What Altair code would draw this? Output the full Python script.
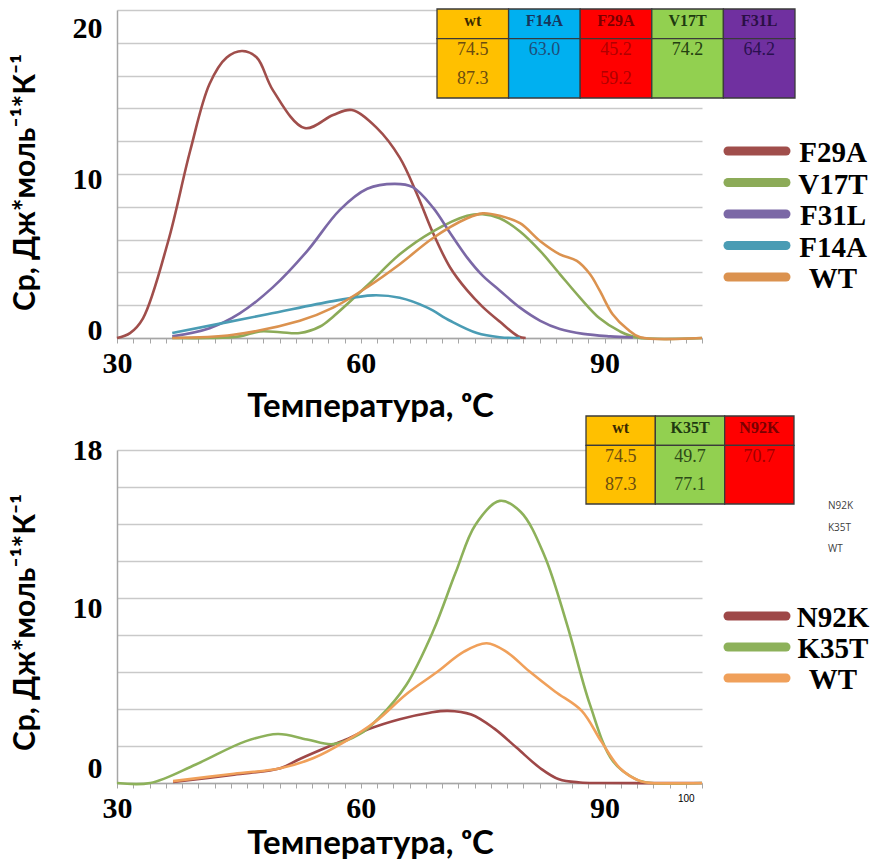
import altair as alt
import pandas as pd

# ---------------- data ----------------
TOP_ORDER = ["F29A", "V17T", "F31L", "F14A", "WT"]
TOP_COLORS = ["#A04E4B", "#8CAB58", "#7B68A6", "#4A9CB4", "#DB924F"]

F29A_T = [30.0, 31.6, 33.2, 36.3, 39.0, 41.4, 43.5, 45.4, 47.2, 49.2, 53.1, 56.6, 58.9, 62.0, 64.8, 66.9, 68.9, 71.0, 73.1, 75.0, 77.1, 79.4, 80.3]
F29A_CP = [0, 0.3, 1.2, 5.9, 11.4, 15.5, 17.1, 17.5, 17.1, 15.1, 12.8, 13.6, 13.9, 12.8, 11.0, 8.8, 6.4, 4.3, 2.9, 1.9, 1.0, 0.1, 0]

V17T_T = [36.8, 41.4, 45.1, 47.6, 50.1, 52.5, 55.0, 56.6, 60.8, 64.8, 68.9, 73.1, 75.0, 77.1, 79.6, 82.1, 84.5, 87.0, 89.4, 91.9, 94.0, 102]
V17T_CP = [0, 0, 0.1, 0.4, 0.35, 0.3, 0.7, 1.3, 3.2, 5.1, 6.5, 7.45, 7.55, 7.3, 6.5, 5.3, 3.9, 2.45, 1.2, 0.4, 0.03, 0]

F31L_T = [36.8, 41.4, 45.1, 49.2, 53.4, 57.4, 60.8, 64.2, 66.4, 68.9, 71.0, 73.1, 75.0, 77.1, 79.6, 82.1, 84.5, 87.4, 90.7, 93.5]
F31L_CP = [0.1, 0.6, 1.5, 3.1, 5.3, 7.8, 9.1, 9.4, 9.2, 7.95, 6.4, 4.9, 3.8, 2.9, 1.85, 1.05, 0.55, 0.25, 0.1, 0.03]

F14A_T = [36.8, 48.5, 56.6, 61.5, 64.8, 68.2, 71.0, 74.3, 77.1, 79.6]
F14A_CP = [0.3, 1.45, 2.25, 2.6, 2.45, 1.85, 1.05, 0.3, 0.05, 0]

WT1_T = [36.8, 44.3, 52.5, 56.6, 60.8, 64.8, 68.9, 73.1, 75.0, 77.1, 79.6, 82.1, 84.5, 86.6, 88.2, 89.4, 91.0, 92.8, 94.4, 102]
WT1_CP = [0, 0.2, 1.05, 1.85, 3.1, 4.5, 6.1, 7.3, 7.6, 7.45, 7.0, 5.9, 5.1, 4.7, 3.9, 2.9, 1.45, 0.55, 0.05, 0]

BOT_ORDER = ["N92K", "K35T", "WT"]
BOT_COLORS = ["#9E4848", "#8DB15A", "#F0A05A"]

N92K_T = [36.9, 44.4, 50.1, 52.5, 56.2, 58.7, 60.9, 64.8, 68.5, 70.7, 73.6, 76.4, 79.2, 82.1, 84.4, 87.0, 89.4, 102]
N92K_CP = [0.05, 0.45, 0.8, 1.3, 2.0, 2.45, 2.9, 3.45, 3.8, 3.9, 3.7, 2.95, 1.9, 0.8, 0.2, 0.03, 0, 0]

K35T_T = [30, 34.1, 39.7, 45.8, 49.8, 53.4, 56.6, 59.9, 62.2, 65.6, 68.9, 71.7, 74.1, 77.1, 79.7, 82.6, 85.4, 88.2, 91.0, 93.9, 95.7, 102]
K35T_CP = [0, 0, 1.0, 2.25, 2.65, 2.35, 2.1, 2.65, 3.5, 5.3, 8.2, 11.4, 13.95, 15.25, 14.65, 12.3, 8.55, 4.25, 1.2, 0.2, 0, 0]

WT2_T = [36.9, 44.4, 50.1, 54.2, 58.1, 61.9, 65.6, 69.4, 72.7, 75.5, 77.9, 80.7, 83.9, 87.2, 89.6, 91.9, 94.4, 95.7, 102]
WT2_CP = [0.1, 0.5, 0.8, 1.35, 2.25, 3.35, 4.8, 6.0, 7.1, 7.55, 7.1, 6.05, 4.95, 3.9, 2.25, 0.8, 0.1, 0, 0]

# tables
TAB1_COLS = ["wt", "F14A", "F29A", "V17T", "F31L"]
TAB1_FILL = ["#FFC000", "#00B0F0", "#FF0000", "#92D050", "#7030A0"]
TAB1_HDR_COLOR = ["#3A2A00", "#17365D", "#7A0000", "#1E3A10", "#2A0F45"]
TAB1_V1 = ["74.5", "63.0", "45.2", "74.2", "64.2"]
TAB1_V2 = ["87.3", "", "59.2", "", ""]
TAB1_VAL_COLOR = ["#6B4C10", "#1F4E79", "#B00000", "#244010", "#2A1050"]

TAB2_COLS = ["wt", "K35T", "N92K"]
TAB2_FILL = ["#FFC000", "#92D050", "#FF0000"]
TAB2_HDR_COLOR = ["#3A2A00", "#1E3A10", "#7A0000"]
TAB2_V1 = ["74.5", "49.7", "70.7"]
TAB2_V2 = ["87.3", "77.1", ""]
TAB2_VAL_COLOR = ["#6B4C10", "#2D4A18", "#A00000"]

SMALL_NOTE = ["N92K", "K35T", "WT"]

X_TITLE = "Температура, ᵒС"
Y_TITLE = "Ср, Дж*моль⁻¹*К⁻¹"
X_DOMAIN = [30, 102]
X_TICKS = list(range(30, 103, 2))

SERIF = "Liberation Serif"
SANS = "Lato"


def long_df(names, ts, cps):
    rows = []
    for n, t, c in zip(names, ts, cps):
        for a, b in zip(t, c):
            rows.append({"series": n, "T": a, "Cp": b})
    return pd.DataFrame(rows)


def table_layers(cols, fills, hdr_colors, v1, v2, val_colors, xrange, yrange):
    n = len(cols)
    xs = alt.Scale(domain=[0, n], range=xrange)
    ys = alt.Scale(domain=[0, 3], range=yrange)
    cells = []
    for i in range(n):
        cells.append({"x0": i, "x1": i + 1, "y0": 0, "y1": 1, "fill": fills[i]})
        cells.append({"x0": i, "x1": i + 1, "y0": 1, "y1": 3, "fill": fills[i]})
    cells = pd.DataFrame(cells)
    rect = alt.Chart(cells).mark_rect(stroke="#3a3a3a", strokeWidth=1.3).encode(
        x=alt.X("x0:Q", scale=xs, axis=None), x2="x1:Q",
        y=alt.Y("y0:Q", scale=ys, axis=None), y2="y1:Q",
        fill=alt.Fill("fill:N", scale=None),
    )
    hdr = pd.DataFrame({"xc": [i + 0.5 for i in range(n)], "yc": [0.42] * n,
                        "txt": cols, "tc": hdr_colors})
    hdr_text = alt.Chart(hdr).mark_text(font=SERIF, fontSize=16, fontWeight="bold",
                                        baseline="middle", align="center").encode(
        x=alt.X("xc:Q", scale=xs, axis=None), y=alt.Y("yc:Q", scale=ys, axis=None),
        text="txt:N", color=alt.Color("tc:N", scale=None))
    vals = []
    for i in range(n):
        vals.append({"xc": i + 0.5, "yc": 1.39, "txt": v1[i], "tc": val_colors[i]})
        vals.append({"xc": i + 0.5, "yc": 2.35, "txt": v2[i], "tc": val_colors[i]})
    vals = pd.DataFrame(vals)
    val_text = alt.Chart(vals).mark_text(font=SERIF, fontSize=18, baseline="middle",
                                         align="center").encode(
        x=alt.X("xc:Q", scale=xs, axis=None), y=alt.Y("yc:Q", scale=ys, axis=None),
        text="txt:N", color=alt.Color("tc:N", scale=None))
    return [rect, hdr_text, val_text]


def legend_layers(order, colors, yrange):
    d = pd.DataFrame({"series": order})
    ys = alt.Scale(type="point", domain=order, range=yrange, padding=0)
    rules = alt.Chart(d).mark_rule(strokeWidth=9, strokeCap="round").encode(
        x=alt.value(611), x2=alt.value(669),
        y=alt.Y("series:N", scale=ys, axis=None),
        color=alt.Color("series:N", scale=alt.Scale(domain=order, range=colors), legend=None))
    labels = alt.Chart(d).mark_text(font=SERIF, fontSize=29, fontWeight="bold",
                                    align="center", baseline="middle", dy=2,
                                    color="black").encode(
        x=alt.value(716), y=alt.Y("series:N", scale=ys, axis=None), text="series:N")
    return [rules, labels]


def panel(df, order, colors, ymax, offset_expr, label_expr, height, tables, legend_range,
          title_y, extra=None):
    x_axis = alt.Axis(
        values=X_TICKS, labelExpr=label_expr, grid=False,
        domainColor="#a6a6a6", domainWidth=1.5, ticks=True, tickColor="#a6a6a6",
        tickSize=5, tickWidth=1,
        labelFont={"condition": {"test": "datum.value == 100", "value": "Liberation Sans"}, "value": SERIF},
        labelFontSize={"condition": {"test": "datum.value == 100", "value": 10}, "value": 30},
        labelFontWeight={"condition": {"test": "datum.value == 100", "value": "normal"}, "value": "bold"},
        labelColor="black", labelPadding=5, labelOverlap=False, labelFlush=False,
        title=X_TITLE, titleFont=SANS, titleFontSize=33, titleFontWeight="bold",
        titleColor="black", titleX=253, titleY=title_y, titleBaseline="alphabetic",
        titleAlign="center",
    )
    y_axis = alt.Axis(
        values=list(range(0, ymax + 1, 2)),
        labelExpr=f"datum.value % 10 == 0 || datum.value == {ymax} ? datum.label : ''",
        grid=True, gridColor="#c9c9c9", gridWidth=1.5, ticks=False,
        domainColor="#a6a6a6", domainWidth=1.5,
        labelFont=SERIF, labelFontSize=30, labelFontWeight="bold", labelColor="black",
        labelPadding=15, labelOffset={"expr": offset_expr}, labelOverlap=False,
        labelFlush=False,
        title=Y_TITLE, titleFont=SANS, titleFontSize=30, titleFontWeight="bold",
        titleColor="black", titleAngle=270, titleX=-83, titleY=172,
        titleBaseline="alphabetic", titleAlign="center",
    )
    lines = alt.Chart(df).mark_line(strokeWidth=2.6, interpolate="catmull-rom").encode(
        x=alt.X("T:Q", scale=alt.Scale(domain=X_DOMAIN, nice=False, zero=False), axis=x_axis),
        y=alt.Y("Cp:Q", scale=alt.Scale(domain=[0, ymax], nice=False), axis=y_axis),
        color=alt.Color("series:N", scale=alt.Scale(domain=order, range=colors), legend=None),
        order="T:Q",
    )
    layers = [lines] + tables + legend_layers(order, colors, legend_range)
    if extra is not None:
        layers += extra
    return alt.layer(*layers).resolve_scale(
        x="independent", y="independent", color="independent"
    ).properties(width=585, height=height)


top_df = long_df(TOP_ORDER, [F29A_T, V17T_T, F31L_T, F14A_T, WT1_T],
                 [F29A_CP, V17T_CP, F31L_CP, F14A_CP, WT1_CP])
bot_df = long_df(BOT_ORDER, [N92K_T, K35T_T, WT2_T], [N92K_CP, K35T_CP, WT2_CP])

top_tables = table_layers(TAB1_COLS, TAB1_FILL, TAB1_HDR_COLOR, TAB1_V1, TAB1_V2,
                          TAB1_VAL_COLOR, [320, 678], [-1, 88])
bot_tables = table_layers(TAB2_COLS, TAB2_FILL, TAB2_HDR_COLOR, TAB2_V1, TAB2_V2,
                          TAB2_VAL_COLOR, [469, 677], [-34, 54])

note_df = pd.DataFrame({"t": SMALL_NOTE})
note = alt.Chart(note_df).mark_text(font="Open Sans", fontSize=10, align="left",
                                    baseline="middle", color="#404040").encode(
    x=alt.value(711),
    y=alt.Y("t:N", scale=alt.Scale(type="point", domain=SMALL_NOTE, range=[56, 99], padding=0), axis=None),
    text="t:N")

top = panel(top_df, TOP_ORDER, TOP_COLORS, 20,
            "datum.value == 20 ? 18 : (datum.value == 10 ? 5 : -8)",
            "datum.value % 30 == 0 ? datum.label : ''",
            328, top_tables, [141, 267], 78)
bottom = panel(bot_df, BOT_ORDER, BOT_COLORS, 18,
               "datum.value == 18 ? 0 : (datum.value == 10 ? 10 : -15)",
               "datum.value % 30 == 0 || datum.value == 100 ? datum.label : ''",
               333, bot_tables, [166, 228], 70, extra=[note])

chart = alt.vconcat(top, bottom, spacing=112, bounds="flush").properties(
    padding={"left": 10, "top": 8, "right": 5, "bottom": 0},
    background="white",
).configure_view(stroke=None)

chart.save("out.html", embed_options={"renderer": "svg", "actions": False})
